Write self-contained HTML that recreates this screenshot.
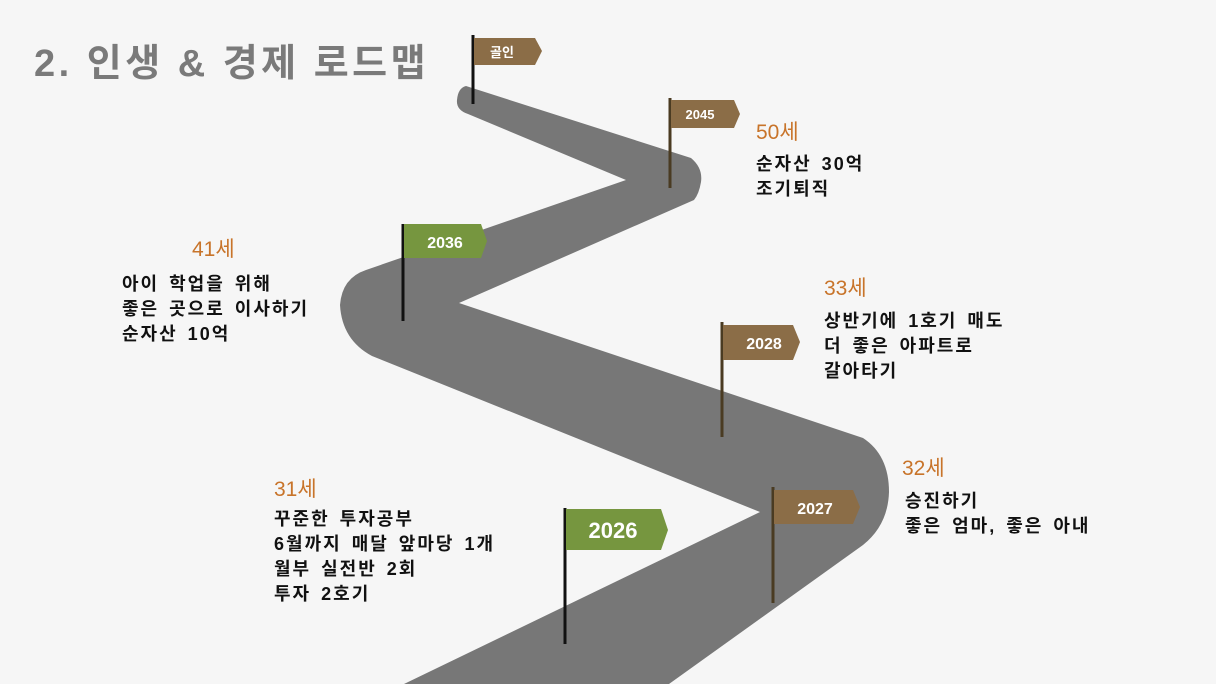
<!DOCTYPE html>
<html><head><meta charset="utf-8"><style>
html,body{margin:0;padding:0}
body{width:1216px;height:684px;background:#f6f6f6;position:relative;overflow:hidden;font-family:"Liberation Sans","Noto Sans CJK KR",sans-serif}
.t{position:absolute;white-space:nowrap}
.age{color:#c8742a;font-size:21px}
.b{color:#111;font-weight:bold;font-size:18px;line-height:25px;letter-spacing:2px;word-spacing:3px}
</style></head><body>
<svg width="1216" height="684" style="position:absolute;left:0;top:0">
<path fill="#777" d="M466 86 L691 158 Q703 168 701 182 Q699 194 694 200 L459 303 L863 438 Q889 455 889 492 Q888 525 863 545 L669 684 L404 684 L760 512 L372 356 Q342 340 340 305 Q342 278 366 270 L626 180 L468 114 Q456 110 457 100 Q458 88 466 86 Z"/>
<g>
<line x1="473" y1="35" x2="473" y2="104" stroke="#111" stroke-width="3"/>
<polygon points="474,38 535,38 542,51 535,65 474,65" fill="#8b6d47"/>
<text x="502" y="57" fill="#fff" font-size="13" font-weight="bold" text-anchor="middle" font-family="Liberation Sans, Noto Sans CJK KR, sans-serif">골인</text>

<line x1="670" y1="98" x2="670" y2="188" stroke="#4a3b22" stroke-width="3"/>
<polygon points="671,100 734,100 740,114 734,128 671,128" fill="#8b6d47"/>
<text x="700" y="119" fill="#fff" font-size="13" font-weight="bold" text-anchor="middle" font-family="Liberation Sans, sans-serif">2045</text>

<line x1="403" y1="224" x2="403" y2="321" stroke="#111" stroke-width="3"/>
<polygon points="404,224 481,224 487,241 481,258 404,258" fill="#76963f"/>
<text x="445" y="248" fill="#fff" font-size="16" font-weight="bold" text-anchor="middle" font-family="Liberation Sans, sans-serif">2036</text>

<line x1="722" y1="322" x2="722" y2="437" stroke="#4a3b22" stroke-width="3"/>
<polygon points="723,325 793,325 800,342 793,360 723,360" fill="#8b6d47"/>
<text x="764" y="349" fill="#fff" font-size="16" font-weight="bold" text-anchor="middle" font-family="Liberation Sans, sans-serif">2028</text>

<line x1="773" y1="487" x2="773" y2="603" stroke="#4a3b22" stroke-width="3"/>
<polygon points="774,490 853,490 860,507 853,524 774,524" fill="#8b6d47"/>
<text x="815" y="514" fill="#fff" font-size="16" font-weight="bold" text-anchor="middle" font-family="Liberation Sans, sans-serif">2027</text>

<line x1="565" y1="508" x2="565" y2="644" stroke="#111" stroke-width="3"/>
<polygon points="566,509 661,509 668,530 661,550 566,550" fill="#76963f"/>
<text x="613" y="538" fill="#fff" font-size="22" font-weight="bold" text-anchor="middle" font-family="Liberation Sans, sans-serif">2026</text>
</g>
</svg>
<div class="t" style="left:34px;top:32px;font-size:38px;font-weight:bold;color:#7a7a7a;letter-spacing:3.5px">2. 인생 &amp; 경제 로드맵</div>

<div class="t age" style="left:756px;top:116px">50세</div>
<div class="t b" style="left:756px;top:152px">순자산 30억<br>조기퇴직</div>

<div class="t age" style="left:192px;top:233px">41세</div>
<div class="t b" style="left:122px;top:272px">아이 학업을 위해<br>좋은 곳으로 이사하기<br>순자산 10억</div>

<div class="t age" style="left:824px;top:272px">33세</div>
<div class="t b" style="left:824px;top:309px">상반기에 1호기 매도<br>더 좋은 아파트로<br>갈아타기</div>

<div class="t age" style="left:902px;top:452px">32세</div>
<div class="t b" style="left:905px;top:489px">승진하기<br>좋은 엄마, 좋은 아내</div>

<div class="t age" style="left:274px;top:473px">31세</div>
<div class="t b" style="left:274px;top:507px">꾸준한 투자공부<br>6월까지 매달 앞마당 1개<br>월부 실전반 2회<br>투자 2호기</div>
</body></html>
